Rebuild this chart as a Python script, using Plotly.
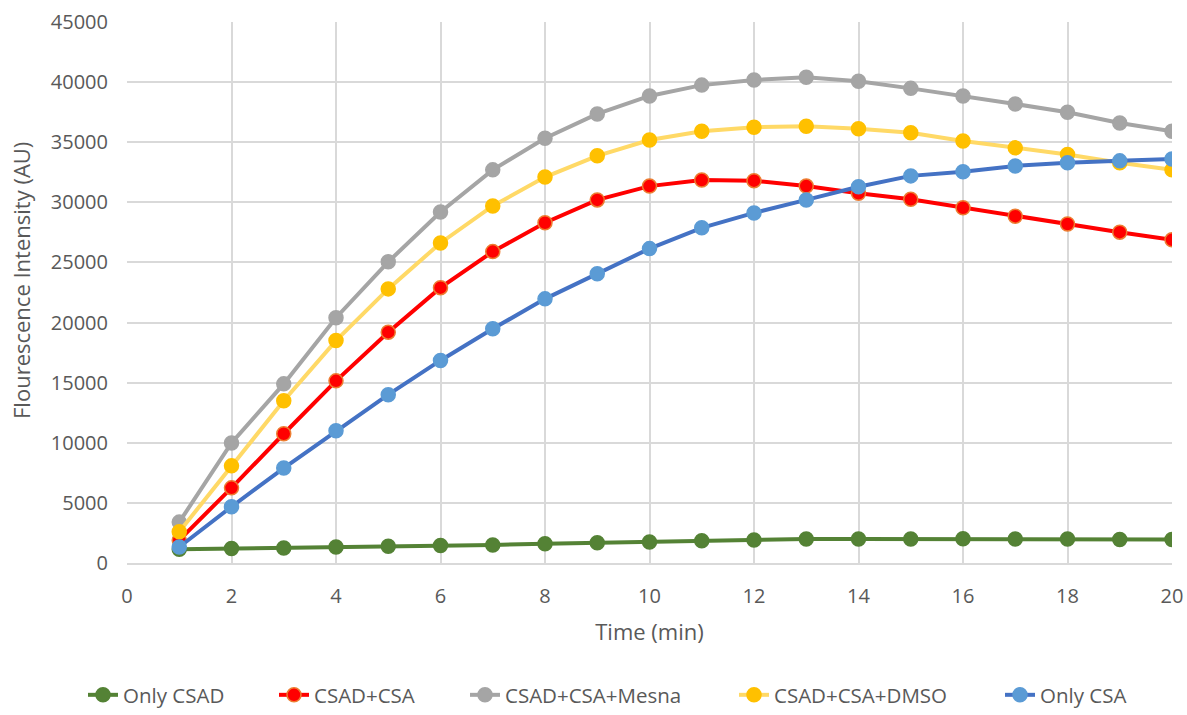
import plotly.graph_objects as go

# Time points (min)
time_min = list(range(1, 21))

# Fluorescence intensity (AU) per condition
only_csad = [1150, 1200, 1250, 1330, 1400, 1450, 1500, 1600, 1680, 1750,
             1850, 1920, 2000, 2000, 2000, 2010, 1990, 1990, 1960, 1960]
csad_csa = [1900, 6250, 10750, 15150, 19200, 22900, 25900, 28300, 30200, 31350,
            31850, 31800, 31350, 30750, 30250, 29550, 28850, 28200, 27520, 26880]
csad_csa_mesna = [3400, 9980, 14900, 20400, 25050, 29200, 32700, 35330, 37350, 38850,
                  39750, 40180, 40400, 40080, 39480, 38850, 38180, 37500, 36600, 35920]
csad_csa_dmso = [2600, 8080, 13500, 18500, 22800, 26620, 29700, 32100, 33870, 35180,
                 35920, 36250, 36330, 36120, 35780, 35110, 34530, 33980, 33300, 32700]
only_csa = [1330, 4680, 7900, 11000, 14000, 16850, 19480, 21970, 24060, 26150,
            27880, 29120, 30200, 31300, 32200, 32550, 33030, 33300, 33450, 33610]

# name, values, line colour, marker fill, marker edge, legend text start (px)
series = [
    ("Only CSAD", only_csad, "#548235", "#548235", "#548235", 124),
    ("CSAD+CSA", csad_csa, "#FF0000", "#FF0000", "#ED7D31", 315),
    ("CSAD+CSA+Mesna", csad_csa_mesna, "#A5A5A5", "#A5A5A5", "#A5A5A5", 506),
    ("CSAD+CSA+DMSO", csad_csa_dmso, "#FFD966", "#FFC000", "#FFC000", 775),
    ("Only CSA", only_csa, "#4472C4", "#5B9BD5", "#5B9BD5", 1041),
]

W, H = 1187, 715
PLOT_L, PLOT_R, PLOT_T, PLOT_B = 127, 1172, 22, 563
font_col = "#595959"
fig = go.Figure()
legends = {}
for i, (name, vals, line_col, fill_col, edge_col, text_x) in enumerate(series):
    key = "legend" if i == 0 else f"legend{i + 1}"
    fig.add_trace(go.Scatter(
        x=time_min, y=vals, name=name, mode="lines+markers",
        line=dict(color=line_col, width=4),
        marker=dict(size=14, color=fill_col, line=dict(color=edge_col, width=1.5)),
        legend=key,
    ))
    # one single-entry legend per series so entries sit at fixed spots
    legends[key] = dict(
        xref="container", yref="container",
        x=(text_x - 41) / W, xanchor="left",
        y=0.0, yanchor="bottom",
        orientation="h", bgcolor="rgba(0,0,0,0)",
        font=dict(family="Open Sans", size=20.5, color=font_col),
    )

fig.update_layout(
    width=W, height=H,
    margin=dict(l=PLOT_L, r=W - PLOT_R, t=PLOT_T, b=H - PLOT_B, autoexpand=False),
    paper_bgcolor="white", plot_bgcolor="white",
    font=dict(family="Open Sans", size=18, color=font_col),
    showlegend=True,
    xaxis=dict(
        range=[0, 20], dtick=2, tick0=0,
        showgrid=True, gridcolor="#D9D9D9", gridwidth=1.5,
        zeroline=False, showline=True, linecolor="#D9D9D9", linewidth=1.5,
        ticks="", tickfont=dict(size=20, color=font_col), ticklabelstandoff=14,
        title=dict(text="Time (min)", font=dict(size=22, color=font_col), standoff=17),
        automargin=False,
    ),
    yaxis=dict(
        range=[0, 45000], dtick=5000, tick0=0, tickformat="d",
        showgrid=True, gridcolor="#D9D9D9", gridwidth=1.5,
        zeroline=False, showline=False,
        ticks="", tickfont=dict(size=20, color=font_col), ticklabelstandoff=18,
        automargin=False,
    ),
    annotations=[dict(
        text="Flourescence Intensity (AU)", textangle=-90,
        xref="paper", yref="paper",
        x=(21 - PLOT_L) / (PLOT_R - PLOT_L), y=(PLOT_B - 281) / (PLOT_B - PLOT_T),
        xanchor="center", yanchor="middle",
        showarrow=False, font=dict(size=22, color=font_col),
    )],
)
fig.update_layout(**legends)

fig.write_html("out.html")
